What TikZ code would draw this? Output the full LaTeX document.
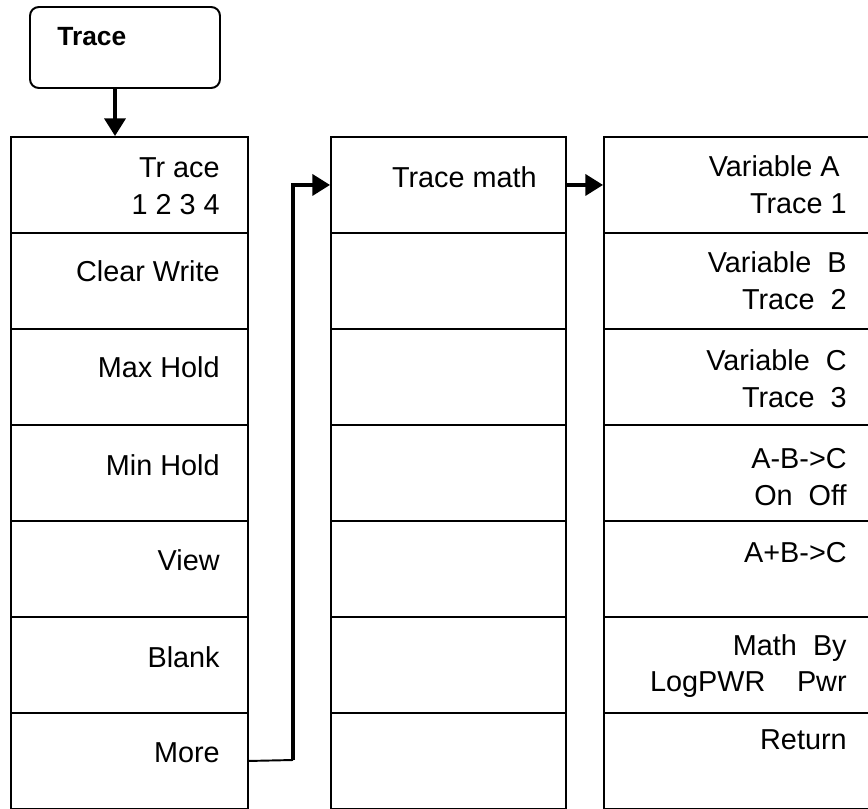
\documentclass[tikz,border=0pt]{standalone}
\usepackage{fontspec}
\setmainfont{Liberation Sans}
\usetikzlibrary{arrows.meta}
\usetikzlibrary{positioning}

\begin{document}
\begin{tikzpicture}
  [x=0.02cm,y=-0.02cm,
  key/.style={draw,line width=1.1pt,anchor=north west,inner sep=0pt,minimum height=1.92cm},
  keytext/.style={anchor=east,align=right,inner sep=0pt,font=\fontsize{16.4}{21}\selectfont},
  >={Triangle[length=10pt,width=12pt]}]

\tikzset{flow/.style={->,line width=1.8pt}}

\useasboundingbox (0,0) rectangle (868,808);

\node[draw,rounded corners=5pt,line width=1.1pt,
  minimum width=3.8cm,minimum height=1.62cm,inner sep=0pt] (title) at (125,47.5) {};
\node[anchor=west,inner sep=0pt,font=\fontsize{15}{18}\selectfont\bfseries] (titletext) at (57,37) {Trace};

\node[key,minimum width=4.74cm] (t1) at (10,136) {};
\node[key,minimum width=4.74cm] (t2) at (10,232) {};
\node[key,minimum width=4.74cm] (t3) at (10,328) {};
\node[key,minimum width=4.74cm] (t4) at (10,424) {};
\node[key,minimum width=4.74cm] (t5) at (10,520) {};
\node[key,minimum width=4.74cm] (t6) at (10,616) {};
\node[key,minimum width=4.74cm] (t7) at (10,712) {};

\node[key,minimum width=4.7cm] (m1) at (330,136) {};
\node[key,minimum width=4.7cm] (m2) at (330,232) {};
\node[key,minimum width=4.7cm] (m3) at (330,328) {};
\node[key,minimum width=4.7cm] (m4) at (330,424) {};
\node[key,minimum width=4.7cm] (m5) at (330,520) {};
\node[key,minimum width=4.7cm] (m6) at (330,616) {};
\node[key,minimum width=4.7cm] (m7) at (330,712) {};

\node[key,minimum width=5.34cm] (v1) at (603,136) {};
\node[key,minimum width=5.34cm] (v2) at (603,232) {};
\node[key,minimum width=5.34cm] (v3) at (603,328) {};
\node[key,minimum width=5.34cm] (v4) at (603,424) {};
\node[key,minimum width=5.34cm] (v5) at (603,520) {};
\node[key,minimum width=5.34cm] (v6) at (603,616) {};
\node[key,minimum width=5.34cm] (v7) at (603,712) {};

\node[keytext] (tl1) at (220,186) {Tr ace\\1 2 3 4};
\node[keytext] (tl2) at (220,271) {Clear Write};
\node[keytext] (tl3) at (220,367) {Max Hold};
\node[keytext] (tl4) at (220,465) {Min Hold};
\node[keytext] (tl5) at (220,560) {View};
\node[keytext] (tl6) at (220,657) {Blank};
\node[keytext] (tl7) at (220,753) {More};

\node[keytext] (ml1) at (537,177) {Trace math};

\node[keytext] (vl1) at (847,185) {Variable A\kern4pt\\Trace 1};
\node[keytext] (vl2) at (847,281) {Variable\ \ B\\Trace\ \ 2};
\node[keytext] (vl3) at (847,379) {Variable\ \ C\\Trace\ \ 3};
\node[keytext] (vl4) at (847,477) {A-B->C\\On\ \ Off};
\node[keytext] (vl5) at (847,553) {A+B->C};
\node[keytext] (vl6) at (847,666) {Math\ \ By\\LogPWR\hspace{1.1em}Pwr};
\node[keytext] (vl7) at (847,740) {Return};

\coordinate (bend) at (293,760);
\draw[flow] ([xshift=-0.2cm]title.south) -- ([xshift=-0.2cm]title.south |- t1.north);
\draw[line width=1.1pt] (t7.east) -- (bend);
\draw[flow] (bend) |- (m1.west);
\draw[flow] (m1.east) -- (v1.west);
\end{tikzpicture}
\end{document}
